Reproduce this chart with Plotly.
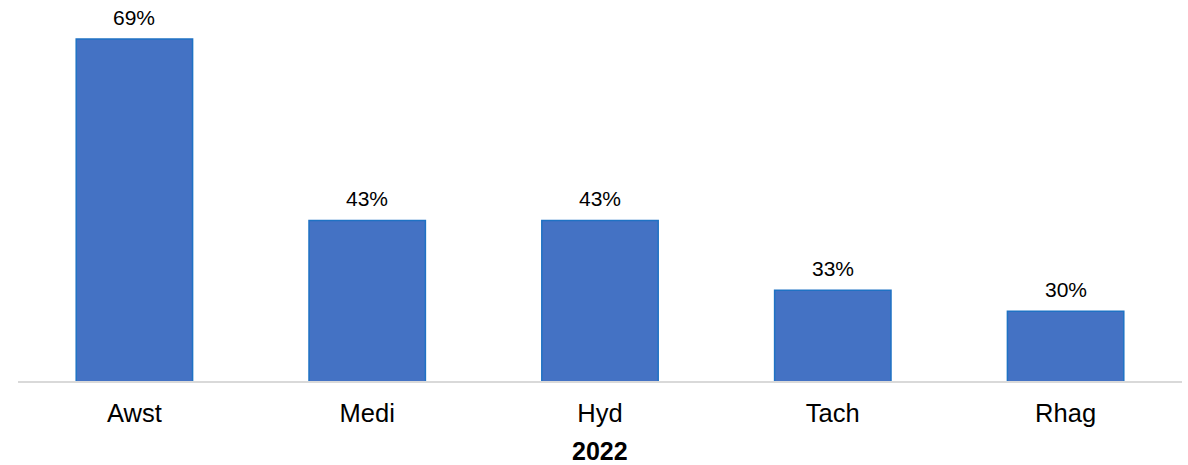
import plotly.graph_objects as go

categories = ["Awst", "Medi", "Hyd", "Tach", "Rhag"]
values = [0.69, 0.43, 0.43, 0.33, 0.30]
labels = ["69%", "43%", "43%", "33%", "30%"]
x_title = "2022"

FONT = "Liberation Sans, Arial, sans-serif"

fig = go.Figure()
fig.add_trace(go.Bar(
    x=categories,
    y=values,
    width=0.5,
    marker=dict(color="#4472C4", line=dict(color="#1F72C4", width=1.5)),
    hoverinfo="skip",
))

for c, v, t in zip(categories, values, labels):
    fig.add_annotation(x=c, y=v, text=t, showarrow=False, yanchor="middle",
                       yshift=22, font=dict(family=FONT, size=21, color="#000000"))

plot_h = 465 - 0 - 83.5
fig.add_annotation(x=0.5, xref="paper", y=(465 - 83.5 - 452) / plot_h, yref="paper",
                   yanchor="middle", text="<b>" + x_title + "</b>", showarrow=False,
                   font=dict(family=FONT, size=25, color="#000000"))

fig.update_layout(
    width=1188, height=465,
    margin=dict(l=17.5, r=5.5, t=0, b=83.5, autoexpand=False),
    paper_bgcolor="white", plot_bgcolor="white",
    showlegend=False,
    bargap=0.5,
    xaxis=dict(
        showline=True, linecolor="#D9D9D9", linewidth=2,
        ticks="", showgrid=False, automargin=False, ticklabelstandoff=8,
        tickfont=dict(family=FONT, size=25.5, color="#000000"),
    ),
    yaxis=dict(range=[0.2, 0.7459], visible=False, showgrid=False, zeroline=False,
               automargin=False),
)

fig.write_html("out.html", config={"displayModeBar": False},
               post_script="document.body.style.margin='0';document.body.style.overflow='hidden';")
